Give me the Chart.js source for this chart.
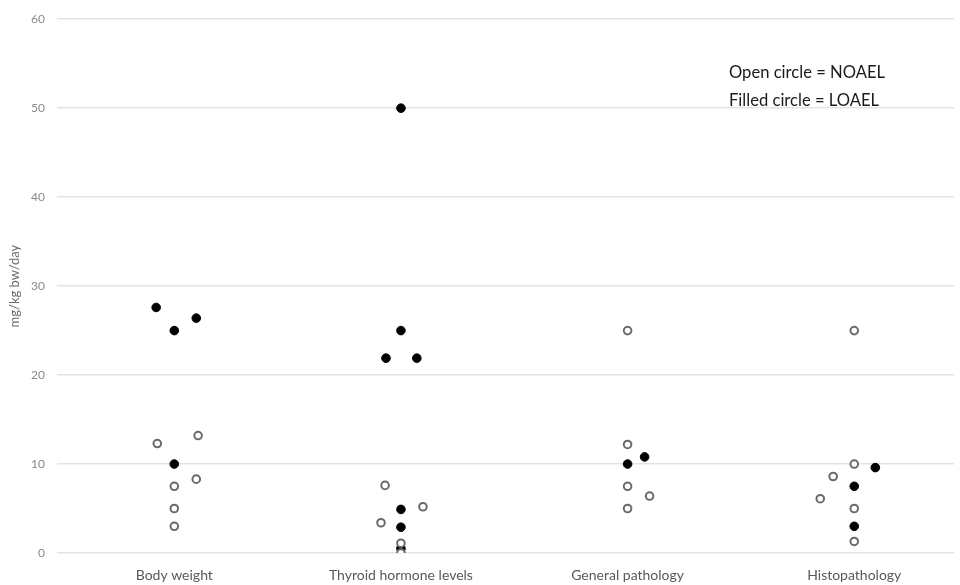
<!DOCTYPE html>
<html>
<head>
<meta charset="utf-8">
<script src="https://cdn.jsdelivr.net/npm/chart.js@4.4.1/dist/chart.umd.min.js"></script>
<style>
  html, body { margin: 0; padding: 0; background: #fff; }
  #wrap { position: relative; width: 960px; height: 585px; }
  #note { position: absolute; left: 729px; top: 58px; font-family: Lato, "Open Sans", sans-serif; font-size: 16.6px; line-height: 28px; color: #1a1a1a; white-space: nowrap; }
</style>
</head>
<body>
<div id="wrap">
  <canvas id="c" width="960" height="585"></canvas>
  <div id="note">Open circle = NOAEL<br>Filled circle = LOAEL</div>
</div>
<script>
const categories = ['Body weight', 'Thyroid hormone levels', 'General pathology', 'Histopathology'];
const yTicks = [0, 10, 20, 30, 40, 50, 60];

// NOAEL (open circles): category index, horizontal jitter (category units), value
const noaelCategory = [0, 0, 0, 0, 0, 0,   1, 1, 1, 1, 1,   2, 2, 2, 2, 2,   3, 3, 3, 3, 3, 3];
const noaelJitter   = [-0.075, 0.105, 0.097, 0, 0, 0,   -0.07, 0.097, -0.088, 0, 0,   0, 0, 0, 0.097, 0,   0, 0, -0.093, -0.15, 0, 0];
const noaelValue    = [12.3, 13.2, 8.3, 7.5, 5, 3,   7.6, 5.2, 3.4, 1.1, 0,   25, 12.2, 7.5, 6.4, 5,   25, 10, 8.6, 6.1, 5, 1.3];

// LOAEL (filled circles)
const loaelCategory = [0, 0, 0, 0,   1, 1, 1, 1, 1, 1, 1,   2, 2,   3, 3, 3];
const loaelJitter   = [-0.08, 0.097, 0, 0,   0, 0, -0.066, 0.07, 0, 0, 0,   0.075, 0,   0.093, 0, 0];
const loaelValue    = [27.6, 26.4, 25, 10,   50, 25, 21.9, 21.9, 4.9, 2.9, 0.5,   10.8, 10,   9.6, 7.5, 3];

const toPoints = (cat, jit, val) => val.map((v, i) => ({ x: cat[i] + jit[i], y: v }));

new Chart(document.getElementById('c'), {
  type: 'scatter',
  data: {
    datasets: [
      {
        label: 'NOAEL',
        data: toPoints(noaelCategory, noaelJitter, noaelValue),
        backgroundColor: '#ffffff',
        borderColor: '#6a6a6a',
        borderWidth: 2,
        pointRadius: 3.8,
        pointHoverRadius: 3.8
      },
      {
        label: 'LOAEL',
        data: toPoints(loaelCategory, loaelJitter, loaelValue),
        backgroundColor: '#000000',
        borderColor: '#000000',
        borderWidth: 1,
        pointRadius: 4.3,
        pointHoverRadius: 4.3
      }
    ]
  },
  options: {
    responsive: false,
    animation: false,
    devicePixelRatio: 1,
    layout: { padding: { top: 11, right: 0, left: 0, bottom: 0 } },
    plugins: { legend: { display: false }, tooltip: { enabled: false } },
    scales: {
      x: {
        type: 'linear',
        min: -0.5175,
        max: 3.441,
        afterBuildTicks: (scale) => { scale.ticks = categories.map((c, i) => ({ value: i })); },
        afterFit: (scale) => { scale.height = 32; },
        grid: { display: false, drawTicks: false },
        border: { display: false },
        ticks: {
          padding: 14,
          color: '#595959',
          font: { family: 'Lato, "Open Sans", sans-serif', size: 14 },
          callback: (v) => categories[v] !== undefined ? categories[v] : ''
        }
      },
      y: {
        min: 0,
        max: 60,
        afterBuildTicks: (scale) => { scale.ticks = yTicks.map(v => ({ value: v })); },
        afterFit: (scale) => { scale.width = 57; },
        grid: { color: '#e3e3e3', lineWidth: 1.5, drawTicks: false },
        border: { display: false },
        ticks: {
          padding: 12,
          color: '#8a8a8a',
          font: { family: 'Lato, "Open Sans", sans-serif', size: 12 }
        },
        title: {
          display: true,
          text: 'mg/kg bw/day',
          color: '#6a6a6a',
          font: { family: 'Lato, "Open Sans", sans-serif', size: 13 },
          padding: { top: 7, bottom: 0 }
        }
      }
    }
  }
});
</script>
</body>
</html>
